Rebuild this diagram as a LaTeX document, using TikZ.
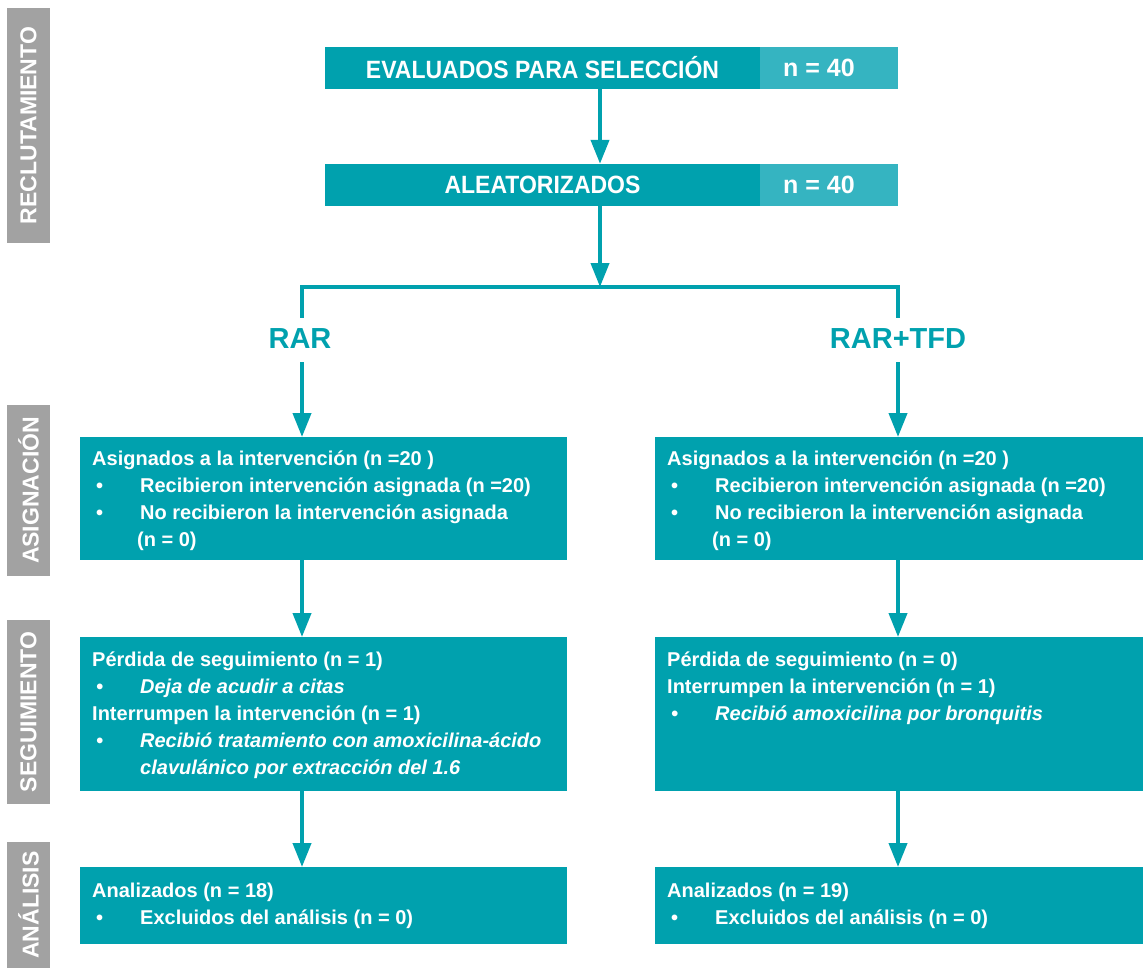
\documentclass[tikz,border=0pt]{standalone}
\usepackage{fontspec}
\setmainfont{Liberation Sans}
\newfontfamily\condfont[FakeStretch=0.92]{Liberation Sans}
\usetikzlibrary{arrows.meta,calc}
\definecolor{tealA}{HTML}{00A1AE}
\definecolor{tealB}{HTML}{35B4C1}
\definecolor{grayS}{HTML}{A2A2A2}
\newcommand{\bul}[1]{\hspace*{4pt}\makebox[44pt][l]{\textbullet}#1}
\newcommand{\ibul}[1]{\hspace*{4pt}\makebox[44pt][l]{\itshape\textbullet}\textit{#1}}
\tikzset{
  topbox/.style={fill=tealA, text=white, inner sep=0pt, minimum height=42pt,
    font=\condfont\bfseries\fontsize{25}{30}\selectfont},
  topn/.style={topbox, fill=tealB, font=\bfseries\fontsize{25}{30}\selectfont},
  mainbox/.style={fill=tealA, inner sep=0pt, anchor=north west},
  txt/.style={anchor=base west, inner sep=0pt, text=white,
    font=\bfseries\fontsize{20}{27}\selectfont},
  grp/.style={text=tealA, inner sep=0pt, text height=21pt, text depth=0pt,
    font=\bfseries\fontsize{29}{34}\selectfont},
  side/.style={fill=grayS, text=white, rotate=90, inner sep=0pt, minimum height=43pt,
    font=\bfseries\fontsize{23}{28}\selectfont},
  conn/.style={draw=tealA, line width=4pt},
  arr/.style={conn, -{Triangle[width=18pt,length=24pt]}},
}
\begin{document}
\begin{tikzpicture}[x=1pt,y=-1pt]
\useasboundingbox (0,0) rectangle (1147,967);

% side labels
\node[side, minimum width=235pt] (sRec) at (28.5,125.5) {RECLUTAMIENTO};
\node[side, minimum width=171pt] (sAsi) at (28.5,490.5) {ASIGNACIÓN};
\node[side, minimum width=184pt] (sSeg) at (28.5,712) {SEGUIMIENTO};
\node[side, minimum width=126pt] (sAna) at (28.5,905) {ANÁLISIS};

% top boxes
\node[topbox, minimum width=435pt] (eval) at (542.5,68) {EVALUADOS PARA SELECCIÓN};
\node[topn, minimum width=138pt] (evaln) at (829,68) {\hspace*{-20pt}n = 40};
\node[topbox, minimum width=435pt] (alea) at (542.5,185) {ALEATORIZADOS};
\node[topn, minimum width=138pt] (alean) at (829,185) {\hspace*{-20pt}n = 40};

\coordinate (cx) at (600,0);
\coordinate (j) at (600,287);
\draw[arr] (eval.south -| cx) -- (alea.north -| cx);
\draw[arr] (alea.south -| cx) -- (j);

% groups
\node[grp] (rar) at (300,337.5) {RAR};
\node[grp] (rartfd) at (898,337.5) {RAR+TFD};
\coordinate (xL) at (302,0);
\draw[conn, shorten <=9pt, shorten >=9pt] (rar.north -| xL) |- (j) -| (rartfd.north);

% boxes
\node[mainbox, minimum width=487pt, minimum height=123pt] (asiL) at (80,437) {};
\node[mainbox, minimum width=488pt, minimum height=123pt] (asiR) at (655,437) {};
\node[mainbox, minimum width=487pt, minimum height=154pt] (segL) at (80,637) {};
\node[mainbox, minimum width=488pt, minimum height=154pt] (segR) at (655,637) {};
\node[mainbox, minimum width=487pt, minimum height=77pt] (anaL) at (80,867) {};
\node[mainbox, minimum width=488pt, minimum height=77pt] (anaR) at (655,867) {};

% arrows
\draw[arr, shorten <=14pt] (rar.south -| xL) -- (asiL.north -| xL);
\draw[arr, shorten <=14pt] (rartfd.south) -- (asiR.north -| rartfd);
\draw[arr] (asiL.south -| xL) -- (segL.north -| xL);
\draw[arr] (asiR.south -| rartfd) -- (segR.north -| rartfd);
\draw[arr] (segL.south -| xL) -- (anaL.north -| xL);
\draw[arr] (segR.south -| rartfd) -- (anaR.north -| rartfd);

% texts
\node[txt] (tAsiL) at ($(asiL.north west)+(12,28)$) {\parbox[t]{470pt}{\raggedright
Asignados a la intervención (n =20 )\\
\bul{Recibieron intervención asignada (n =20)}\\
\bul{No recibieron la intervención asignada}\\
\hspace*{45pt}(n = 0)}};
\node[txt] (tAsiR) at ($(asiR.north west)+(12,28)$) {\parbox[t]{470pt}{\raggedright
Asignados a la intervención (n =20 )\\
\bul{Recibieron intervención asignada (n =20)}\\
\bul{No recibieron la intervención asignada}\\
\hspace*{45pt}(n = 0)}};
\node[txt] (tSegL) at ($(segL.north west)+(12,29)$) {\parbox[t]{470pt}{\raggedright
Pérdida de seguimiento (n = 1)\\
\ibul{Deja de acudir a citas}\\
Interrumpen la intervención (n = 1)\\
\ibul{Recibió tratamiento con amoxicilina-ácido}\\
\hspace*{48pt}\textit{clavulánico por extracción del 1.6}}};
\node[txt] (tSegR) at ($(segR.north west)+(12,29)$) {\parbox[t]{470pt}{\raggedright
Pérdida de seguimiento (n = 0)\\
Interrumpen la intervención (n = 1)\\
\ibul{Recibió amoxicilina por bronquitis}}};
\node[txt] (tAnaL) at ($(anaL.north west)+(12,30)$) {\parbox[t]{470pt}{\raggedright
Analizados (n = 18)\\
\bul{Excluidos del análisis (n = 0)}}};
\node[txt] (tAnaR) at ($(anaR.north west)+(12,30)$) {\parbox[t]{470pt}{\raggedright
Analizados (n = 19)\\
\bul{Excluidos del análisis (n = 0)}}};
\end{tikzpicture}
\end{document}
